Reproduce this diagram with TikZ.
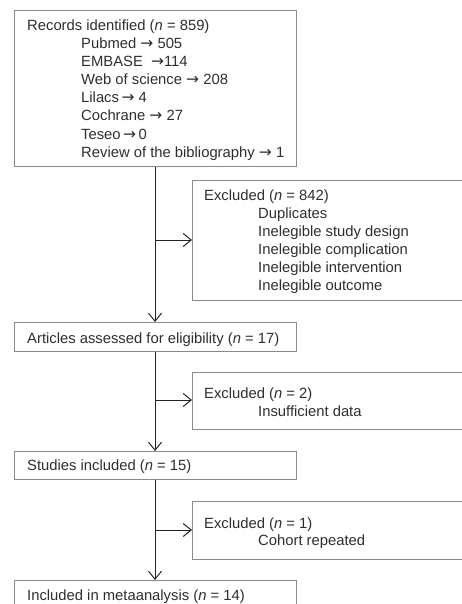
\documentclass[tikz,border=0pt]{standalone}
\usepackage{fontspec}
\setmainfont{Liberation Sans}
\newfontfamily\arrowfont{DejaVu Sans}
\usetikzlibrary{arrows.meta}
\definecolor{boxgray}{HTML}{8A8A8A}
\definecolor{linecol}{HTML}{222222}
\definecolor{textgray}{HTML}{2E2E2E}
% right arrow used inside the record counts
\newcommand{\toarr}{{\arrowfont\fontsize{15.5}{18}\selectfont →}}
\begin{document}
\begin{tikzpicture}[x=1pt,y=-1pt,
  box/.style={draw=boxgray, line width=1.2pt, anchor=north west, inner sep=0pt},
  txt/.style={anchor=base west, inner sep=0pt, text=textgray,
              font=\fontsize{14.8}{18}\selectfont},
  link/.style={draw=linecol, line width=1pt,
               -{Straight Barb[length=8pt,width=13pt,line width=1pt]}},
  branch/.style={link}]
\useasboundingbox (0,0) rectangle (461,604);

% boxes
\node[box, minimum width=282pt, minimum height=156pt] (b1) at (14,10) {};
\node[box, minimum width=271pt, minimum height=120pt] (b2) at (192,180) {};
\node[box, minimum width=282pt, minimum height=29pt]  (b3) at (14,322) {};
\node[box, minimum width=271pt, minimum height=57pt]  (b4) at (192,372) {};
\node[box, minimum width=282pt, minimum height=28pt]  (b5) at (14,451) {};
\node[box, minimum width=271pt, minimum height=58pt]  (b6) at (192,501) {};
\node[box, minimum width=282pt, minimum height=34pt]  (b7) at (14,580) {};

% record sources
\node[txt] (r0) at (27,30.5)  {Records identified (\textit{n} = 859)};
\node[txt] (r1) at (81,48.6)  {Pubmed \toarr{} 505};
\node[txt] (r2) at (81,66.7)  {EMBASE \ \toarr114};
\node[txt] (r3) at (81,84.8)  {Web of science \toarr{} 208};
\node[txt] (r4) at (81,102.9) {Lilacs\,\toarr{} 4};
\node[txt] (r5) at (81,121)   {Cochrane \toarr{} 27};
\node[txt] (r6) at (81,139.1) {Teseo\,\toarr\,0};
\node[txt] (r7) at (81,157.2) {Review of the bibliography \toarr{} 1};

% first exclusion
\node[txt] (e0) at (204,200) {Excluded (\textit{n} = 842)};
\node[txt] (e1) at (258,218) {Duplicates};
\node[txt] (e2) at (258,236) {Inelegible study design};
\node[txt] (e3) at (258,254) {Inelegible complication};
\node[txt] (e4) at (258,272) {Inelegible intervention};
\node[txt] (e5) at (258,290) {Inelegible outcome};

\node[txt] (a0) at (27,343.3) {Articles assessed for eligibility (\textit{n} = 17)};

\node[txt] (f0) at (204,398.3) {Excluded (\textit{n} = 2)};
\node[txt] (f1) at (258,416)   {Insufficient data};

\node[txt] (s0) at (27,470.7) {Studies included (\textit{n} = 15)};

\node[txt] (g0) at (204,528.3) {Excluded (\textit{n} = 1)};
\node[txt] (g1) at (258,545)   {Cohort repeated};

\node[txt] (m0) at (27,600) {Included in metaanalysis (\textit{n} = 14)};

% connectors
\coordinate (spine) at (155,0);
\coordinate (j1) at (155,240);
\coordinate (j2) at (155,400);
\coordinate (j3) at (155,530);
\draw[link] (b1.south -| spine) -- (b3.north -| spine);
\draw[branch] (j1) -- (j1 -| b2.west);
\draw[link] (b3.south -| spine) -- (b5.north -| spine);
\draw[branch] (j2) -- (j2 -| b4.west);
\draw[link] (b5.south -| spine) -- (b7.north -| spine);
\draw[branch] (j3) -- (j3 -| b6.west);
\end{tikzpicture}
\end{document}
